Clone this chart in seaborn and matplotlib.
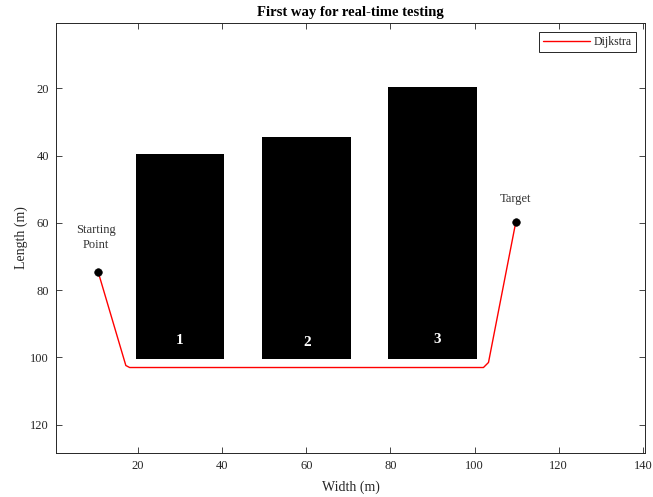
import numpy as np
import pandas as pd
import seaborn as sns
import matplotlib.pyplot as plt

# obstacles (image coordinates, y grows downward)
block_left = [19.5, 49.5, 79.5]
block_right = [40.5, 70.5, 100.5]
block_top = [39.5, 34.5, 19.5]
block_bottom = [100.5, 100.5, 100.5]
block_names = ["1", "2", "3"]
name_x = [29.8, 60.3, 91.2]
name_y = [95.0, 95.5, 94.6]

# Dijkstra path
path_x = [10.5, 17.1, 18.0, 102.1, 103.3, 109.8]
path_y = [74.5, 102.4, 103.0, 103.0, 101.5, 59.7]

start_pt = (10.5, 74.5)
target_pt = (109.8, 59.7)

x_ticks = [20, 40, 60, 80, 100, 120, 140]
y_ticks = [20, 40, 60, 80, 100, 120]

sns.set_theme(style="ticks")
plt.rcParams["font.family"] = ["Liberation Serif", "DejaVu Serif"]

fig = plt.figure(figsize=(6.53, 4.97), dpi=100)
ax = fig.add_axes([56 / 653, (497 - 453.3) / 497, (645 - 56) / 653, (453.3 - 22.7) / 497])

blocks = pd.DataFrame({"left": block_left, "right": block_right,
                       "top": block_top, "bottom": block_bottom})
ax.bar((blocks.left + blocks.right) / 2, blocks.bottom - blocks.top,
       width=blocks.right - blocks.left, bottom=blocks.top,
       color="black", linewidth=0, zorder=1)

for name, nx, ny in zip(block_names, name_x, name_y):
    ax.text(nx, ny, name, color="white", fontsize=11, fontweight="bold",
            ha="center", va="center", zorder=2)

path = pd.DataFrame({"x": path_x, "y": path_y})
sns.lineplot(data=path, x="x", y="y", sort=False, color="red", linewidth=1.0,
             label="Dijkstra", ax=ax, zorder=3)

pts = pd.DataFrame({"x": [start_pt[0], target_pt[0]], "y": [start_pt[1], target_pt[1]]})
sns.scatterplot(data=pts, x="x", y="y", color="black", s=30, edgecolor="black",
                ax=ax, zorder=4, legend=False)

ax.text(start_pt[0] - 0.5, start_pt[1] - 10.2, "Starting\nPoint", fontsize=9,
        color="#333333", ha="center", va="center", linespacing=1.35)
ax.text(target_pt[0], target_pt[1] - 6.8, "Target", fontsize=9,
        color="#333333", ha="center", va="center")

ax.set_xlim(0.5, 140.5)
ax.set_ylim(128.5, 0.5)
ax.set_xticks(x_ticks)
ax.set_yticks(y_ticks)
ax.tick_params(direction="in", top=True, right=True, length=4, width=0.6,
               colors="#262626", labelsize=9, pad=5)
for side in ax.spines.values():
    side.set_visible(True)
    side.set_color("#262626")
    side.set_linewidth(0.7)

ax.set_xlabel("Width (m)", fontsize=10, color="#262626", labelpad=6)
ax.set_ylabel("Length (m)", fontsize=10, color="#262626", labelpad=2)
ax.set_title("First way for real-time testing", fontsize=10.5,
             fontweight="bold", color="black", pad=5)

leg = ax.legend(loc="upper right", fontsize=8.5, frameon=True, fancybox=False,
                framealpha=1, edgecolor="#262626", handlelength=4.0,
                borderaxespad=0.75, borderpad=0.35, handletextpad=0.3)
leg.get_frame().set_linewidth(0.7)

fig.savefig("out.png", dpi=100)
